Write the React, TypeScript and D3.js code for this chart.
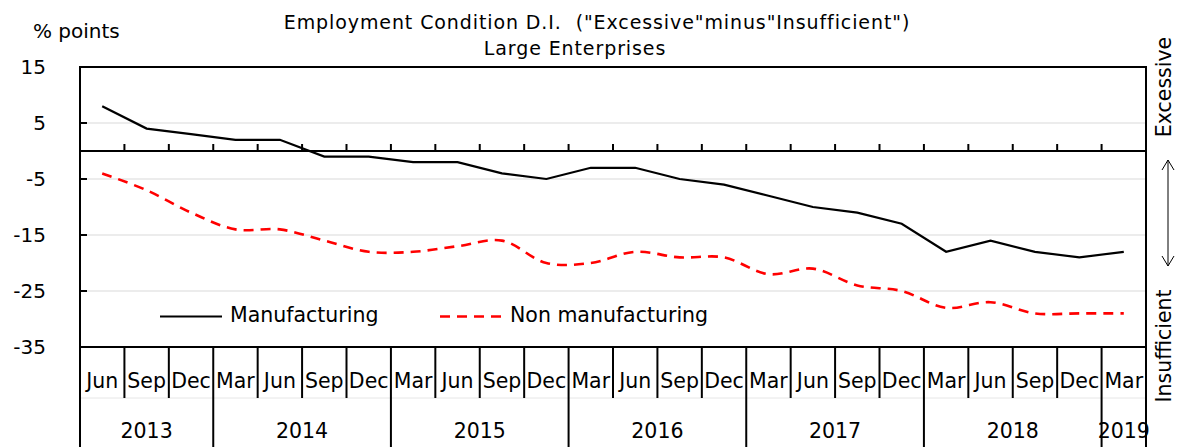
import React from "react";
import * as d3 from "d3";

const quarterLabels = ["Jun","Sep","Dec","Mar","Jun","Sep","Dec","Mar","Jun","Sep","Dec","Mar","Jun","Sep","Dec","Mar","Jun","Sep","Dec","Mar","Jun","Sep","Dec","Mar"];
const quarterYears = [2013,2013,2013,2014,2014,2014,2014,2015,2015,2015,2015,2016,2016,2016,2016,2017,2017,2017,2017,2018,2018,2018,2018,2019];
const manufacturing = [8,4,3,2,2,-1,-1,-2,-2,-4,-5,-3,-3,-5,-6,-8,-10,-11,-13,-18,-16,-18,-19,-18];
const nonManufacturing = [-4,-7,-11,-14,-14,-16,-18,-18,-17,-16,-20,-20,-18,-19,-19,-22,-21,-24,-25,-28,-27,-29,-29,-29];
const yTicks = [15,5,-5,-15,-25,-35];
const gridValues = [5,-5,-15,-25];
const titleLine1 = "Employment Condition D.I.  (\"Excessive\"minus\"Insufficient\")";
const titleLine2 = "Large Enterprises";
const seriesNames = ["Manufacturing","Non manufacturing"];

const W = 1179, H = 447;
const L = 80, R = 1146, T = 67, B = 347;
const FONT = "'DejaVu Sans', Verdana, sans-serif";

export default function App() {
  const idx = quarterLabels.map((_, i) => i);
  const x = d3.scaleBand<number>().domain(idx).range([L, R]).padding(0);
  const y = d3.scaleLinear().domain([-35, 15]).range([B, T]);
  const bw = x.bandwidth();
  const cx = (i: number) => (x(i) as number) + bw / 2;

  const lineLin = d3.line<number>().x((_, i) => cx(i)).y(d => y(d)).curve(d3.curveLinear);
  const lineSmooth = d3.line<number>().x((_, i) => cx(i)).y(d => y(d)).curve(d3.curveCatmullRom.alpha(0.5));

  const groups: { year: number; start: number; end: number }[] = [];
  quarterYears.forEach((yr, i) => {
    const g = groups[groups.length - 1];
    if (g && g.year === yr) g.end = i;
    else groups.push({ year: yr, start: i, end: i });
  });
  const yearBoundaries = new Set(groups.map(g => g.start));

  const y0 = y(0);
  const axisBottom = 398;

  return (
    <svg width={W} height={H} style={{ position: "absolute", left: 0, top: 0, background: "#fff" }} fontFamily={FONT}>
      <rect x={0} y={0} width={W} height={H} fill="#fff" />
      <text x={597} y={29} textAnchor="middle" fontSize={19} letterSpacing={0.9} fill="#000" style={{ whiteSpace: "pre" }}>{titleLine1}</text>
      <text x={575} y={55} textAnchor="middle" fontSize={19} letterSpacing={0.9} fill="#000">{titleLine2}</text>
      <text x={33} y={38} fontSize={20} fill="#000">% points</text>

      {gridValues.map(v => (
        <line key={"g" + v} x1={L} x2={R} y1={y(v)} y2={y(v)} stroke="#d9d9d9" strokeWidth={1} />
      ))}

      {yTicks.map(v => (
        <text key={"yt" + v} x={46} y={y(v)} dy="0.36em" textAnchor="end" fontSize={20} fill="#000">{String(v)}</text>
      ))}
      {gridValues.map(v => (
        <line key={"ytk" + v} x1={L} x2={L + 7} y1={y(v)} y2={y(v)} stroke="#000" strokeWidth={2} />
      ))}

      <line x1={L} x2={R} y1={y0} y2={y0} stroke="#000" strokeWidth={2} />
      {idx.slice(1).map(i => (
        <line key={"zt" + i} x1={x(i) as number} x2={x(i) as number} y1={y0} y2={y0 - 7} stroke="#000" strokeWidth={2} />
      ))}

      <line x1={L} x2={R} y1={axisBottom} y2={axisBottom} stroke="#e6e6e6" strokeWidth={1} />
      {idx.slice(1).map(i => (
        <line key={"sep" + i} x1={x(i) as number} x2={x(i) as number} y1={B} y2={yearBoundaries.has(i) ? H : axisBottom} stroke="#000" strokeWidth={2} />
      ))}
      <line x1={L} x2={L} y1={T} y2={H} stroke="#000" strokeWidth={2} />
      <line x1={R} x2={R} y1={T} y2={H} stroke="#000" strokeWidth={2} />
      {quarterLabels.map((m, i) => (
        <text key={"m" + i} x={cx(i)} y={388} textAnchor="middle" fontSize={20.5} fill="#000">{m}</text>
      ))}
      {groups.map(g => (
        <text key={"yr" + g.year} x={((x(g.start) as number) + (x(g.end) as number) + bw) / 2} y={438} textAnchor="middle" fontSize={20.5} fill="#000">{String(g.year)}</text>
      ))}

      <rect x={L} y={T} width={R - L} height={B - T} fill="none" stroke="#000" strokeWidth={2} />

      <path d={lineSmooth(nonManufacturing) || ""} fill="none" stroke="#ff0000" strokeWidth={2.6} strokeDasharray="10,7" />
      <path d={lineLin(manufacturing) || ""} fill="none" stroke="#000" strokeWidth={2.2} />

      <line x1={160} x2={222} y1={316.5} y2={316.5} stroke="#000" strokeWidth={2.2} />
      <text x={230} y={322} fontSize={20.5} fill="#000">{seriesNames[0]}</text>
      <line x1={440} x2={502} y1={316.5} y2={316.5} stroke="#ff0000" strokeWidth={2.6} strokeDasharray="10,7" />
      <text x={510} y={322} fontSize={20.5} fill="#000">{seriesNames[1]}</text>

      <text transform="translate(1171,87) rotate(-90)" textAnchor="middle" fontSize={20.5} fill="#000">Excessive</text>
      <text transform="translate(1171,346) rotate(-90)" textAnchor="middle" fontSize={20.5} fill="#000">Insufficient</text>
      <line x1={1168} x2={1168} y1={160} y2={266} stroke="#000" strokeWidth={1} />
      <polyline points="1162,170 1168,160 1174,170" fill="none" stroke="#000" strokeWidth={1} />
      <polyline points="1162,256 1168,266 1174,256" fill="none" stroke="#000" strokeWidth={1} />
    </svg>
  );
}
